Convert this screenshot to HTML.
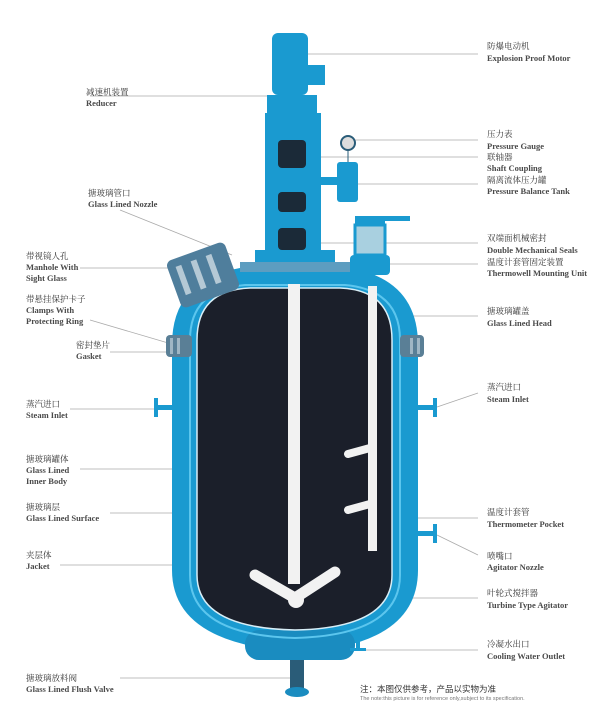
<!DOCTYPE html>
<html><head><meta charset="utf-8"><style>
html,body{margin:0;padding:0;background:#fff;}
svg{display:block}
text{font-family:"Liberation Serif","Noto Serif CJK SC",serif;font-size:8.5px;fill:#333;}
.e{font-weight:bold;fill:#4a4a4a}
</style></head><body>
<svg width="614" height="726" viewBox="0 0 614 726" xmlns="http://www.w3.org/2000/svg">
<g stroke="#aaa" stroke-width="0.8" fill="none">
<line x1="308" y1="54" x2="478" y2="54"/>
<line x1="355" y1="140" x2="478" y2="140"/>
<line x1="300" y1="157" x2="478" y2="157"/>
<line x1="355" y1="184" x2="478" y2="184"/>
<line x1="320" y1="243" x2="478" y2="243"/>
<line x1="385" y1="264" x2="478" y2="264"/>
<line x1="395" y1="316" x2="478" y2="316"/>
<line x1="437" y1="407" x2="478" y2="393"/>
<line x1="373" y1="518" x2="478" y2="518"/>
<line x1="437" y1="535" x2="478" y2="555"/>
<line x1="298" y1="598" x2="478" y2="598"/>
<line x1="355" y1="650" x2="478" y2="650"/>
<line x1="90" y1="96" x2="268" y2="96"/>
<line x1="120" y1="210" x2="232" y2="255"/>
<line x1="80" y1="268" x2="178" y2="268"/>
<line x1="90" y1="320" x2="175" y2="345"/>
<line x1="110" y1="352" x2="172" y2="352"/>
<line x1="70" y1="409" x2="156" y2="409"/>
<line x1="80" y1="469" x2="190" y2="469"/>
<line x1="110" y1="513" x2="200" y2="513"/>
<line x1="60" y1="565" x2="178" y2="565"/>
<line x1="120" y1="678" x2="292" y2="678"/>
</g>
<!-- vessel -->
<path d="M172 345 Q172 280 240 268 L350 268 Q418 280 418 345 L418 570 Q418 645 300 652 Q172 645 172 570 Z" fill="#1a9ad0"/>
<rect x="245" y="630" width="110" height="30" rx="14" fill="#1a8cc0"/>
<path d="M190 340 Q190 290 245 285 L345 285 Q400 290 400 340 L400 575 Q400 635 295 638 Q190 635 190 575 Z" fill="none" stroke="#5cc6ee" stroke-width="2"/>
<path d="M197 340 Q197 290 250 288 L340 288 Q392 290 392 340 L392 575 Q392 628 295 630 Q197 628 197 575 Z" fill="#1b1f2a" stroke="#d8eef7" stroke-width="1.5"/>
<!-- flanges / clamps -->
<rect x="166" y="335" width="26" height="22" rx="4" fill="#5a7f96"/><rect x="400" y="335" width="24" height="22" rx="4" fill="#5a7f96"/>
<g fill="#9fb6c4"><rect x="170" y="338" width="3" height="16"/><rect x="177" y="338" width="3" height="16"/><rect x="410" y="338" width="3" height="16"/><rect x="417" y="338" width="3" height="16"/></g>
<rect x="155" y="405" width="17" height="5" fill="#1a9ad0"/><rect x="154" y="398" width="4" height="19" fill="#1a9ad0"/>
<rect x="418" y="405" width="17" height="5" fill="#1a9ad0"/><rect x="433" y="398" width="4" height="19" fill="#1a9ad0"/>
<rect x="418" y="531" width="17" height="5" fill="#1a9ad0"/><rect x="433" y="524" width="4" height="19" fill="#1a9ad0"/>
<rect x="356" y="638" width="4" height="12" fill="#1a9ad0"/><rect x="350" y="648" width="16" height="3" fill="#1a9ad0"/>
<!-- valve -->
<rect x="290" y="660" width="14" height="30" fill="#2a5c78"/>
<ellipse cx="297" cy="692" rx="12" ry="5" fill="#1a8cc0"/>
<!-- manhole -->
<g fill="#4f7e9c"><rect x="172" y="250" width="62" height="50" rx="6" transform="rotate(-20 203 275)"/></g>
<g fill="#b5c9d5"><rect x="180" y="258" width="6" height="30" transform="rotate(-20 203 275)"/><rect x="196" y="258" width="6" height="30" transform="rotate(-20 203 275)"/><rect x="212" y="258" width="6" height="30" transform="rotate(-20 203 275)"/></g>
<rect x="240" y="262" width="110" height="10" fill="#5d9dc0"/>
<!-- drive -->
<rect x="272" y="33" width="36" height="62" rx="6" fill="#1a9ad0"/>
<rect x="305" y="65" width="20" height="20" fill="#1a9ad0"/>
<rect x="267" y="95" width="50" height="18" fill="#1a9ad0"/>
<rect x="265" y="113" width="56" height="140" fill="#1a9ad0"/>
<rect x="278" y="140" width="28" height="28" rx="4" fill="#1b2a38"/>
<rect x="278" y="192" width="28" height="20" rx="4" fill="#1b2a38"/>
<rect x="278" y="228" width="28" height="22" rx="4" fill="#1b2a38"/>
<rect x="255" y="250" width="80" height="12" fill="#1a9ad0"/>
<rect x="320" y="177" width="20" height="8" fill="#1a9ad0"/>
<rect x="337" y="162" width="21" height="40" rx="3" fill="#1a9ad0"/>
<circle cx="348" cy="143" r="7" fill="#ddd" stroke="#2a5c78" stroke-width="2"/>
<line x1="348" y1="150" x2="348" y2="162" stroke="#2a5c78"/>
<!-- sight glass -->
<rect x="355" y="225" width="30" height="30" fill="#a9d0e0" stroke="#1a9ad0" stroke-width="3"/>
<rect x="355" y="216" width="30" height="10" fill="#1a9ad0"/><rect x="370" y="216" width="40" height="5" fill="#1a9ad0"/>
<rect x="350" y="255" width="40" height="20" rx="4" fill="#1a9ad0"/>
<!-- agitator -->
<rect x="288" y="284" width="12" height="300" fill="#f2f2f2"/>
<path d="M255 575 L295 598 L335 572" stroke="#f2f2f2" stroke-width="11" fill="none" stroke-linecap="round"/>
<circle cx="296" cy="600" r="8" fill="#f2f2f2"/>
<rect x="368" y="286" width="9" height="265" fill="#f2f2f2"/>
<path d="M348 454 L370 448 M348 510 L370 504" stroke="#f2f2f2" stroke-width="8" stroke-linecap="round"/>
<!-- labels right -->
<text x="487" y="49">防爆电动机</text><text class="e" x="487" y="61">Explosion Proof Motor</text>
<text x="487" y="137">压力表</text><text class="e" x="487" y="149">Pressure Gauge</text>
<text x="487" y="160">联轴器</text><text class="e" x="487" y="171">Shaft Coupling</text>
<text x="487" y="183">隔离流体压力罐</text><text class="e" x="487" y="194">Pressure Balance Tank</text>
<text x="487" y="241">双端面机械密封</text><text class="e" x="487" y="253">Double Mechanical Seals</text>
<text x="487" y="265">温度计套管固定装置</text><text class="e" x="487" y="276">Thermowell Mounting Unit</text>
<text x="487" y="314">搪玻璃罐盖</text><text class="e" x="487" y="326">Glass Lined Head</text>
<text x="487" y="390">蒸汽进口</text><text class="e" x="487" y="402">Steam Inlet</text>
<text x="487" y="515">温度计套管</text><text class="e" x="487" y="527">Thermometer Pocket</text>
<text x="487" y="559">喷嘴口</text><text class="e" x="487" y="570">Agitator Nozzle</text>
<text x="487" y="596">叶轮式搅拌器</text><text class="e" x="487" y="608">Turbine Type Agitator</text>
<text x="487" y="647">冷凝水出口</text><text class="e" x="487" y="659">Cooling Water Outlet</text>
<!-- labels left -->
<text x="86" y="95">减速机装置</text><text class="e" x="86" y="106">Reducer</text>
<text x="88" y="196">搪玻璃管口</text><text class="e" x="88" y="207">Glass Lined Nozzle</text>
<text x="26" y="259">带视镜人孔</text><text class="e" x="26" y="270">Manhole With</text><text class="e" x="26" y="281">Sight Glass</text>
<text x="26" y="302">带悬挂保护卡子</text><text class="e" x="26" y="313">Clamps With</text><text class="e" x="26" y="324">Protecting Ring</text>
<text x="76" y="348">密封垫片</text><text class="e" x="76" y="359">Gasket</text>
<text x="26" y="407">蒸汽进口</text><text class="e" x="26" y="418">Steam  Inlet</text>
<text x="26" y="462">搪玻璃罐体</text><text class="e" x="26" y="473">Glass Lined</text><text class="e" x="26" y="484">Inner Body</text>
<text x="26" y="510">搪玻璃层</text><text class="e" x="26" y="521">Glass Lined Surface</text>
<text x="26" y="558">夹层体</text><text class="e" x="26" y="569">Jacket</text>
<text x="26" y="681">搪玻璃放料阀</text><text class="e" x="26" y="692">Glass Lined Flush Valve</text>
<text x="360" y="692" style="font-family:'Liberation Sans','Noto Sans CJK SC',sans-serif;font-size:8.5px">注：本图仅供参考，产品以实物为准</text>
<text x="360" y="700" style="font-family:'Liberation Sans',sans-serif;font-size:5.5px;fill:#777">The note:this picture is for reference only,subject to its specification.</text>
</svg>
</body></html>
